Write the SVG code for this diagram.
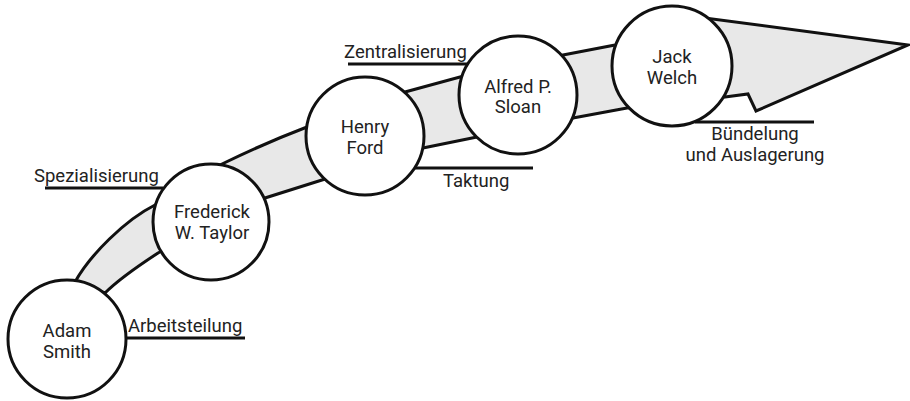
<svg xmlns="http://www.w3.org/2000/svg" width="910" height="401" viewBox="0 0 910 401">
<style>
.band{fill:#e8e8e8;stroke:#111;stroke-width:3;stroke-linejoin:miter}
.node circle{fill:#fff;stroke:#111;stroke-width:3}
text{font-family:Roboto,"Liberation Sans",sans-serif;font-size:18.5px;fill:#222}
.c{text-anchor:middle}
.ul{stroke:#111;stroke-width:3}
</style>
<rect width="910" height="401" fill="#fff"/>
<g id="connectors">
<path class="band" d="M75,282 C90,255 125,220 155,205 L222,164 Q265,143 307,127 L405,92 L460,77 L563,55 L615,45 L705,18 L908,45 L756,111 L748,94 L725,97 L627,108 L573,118 L477,137 L423,148 L322,180 L265,198 L158,253 C135,268 118,280 105,293 Z"/>
<line class="ul" x1="45" y1="188" x2="163" y2="188"/>
<line class="ul" x1="127" y1="338" x2="245" y2="338"/>
<line class="ul" x1="348" y1="64" x2="468" y2="64"/>
<line class="ul" x1="415" y1="168" x2="533" y2="168"/>
<line class="ul" x1="695" y1="122" x2="814" y2="122"/>
</g>
<g id="labels">
<text x="34" y="182">Spezialisierung</text>
<text x="128" y="332">Arbeitsteilung</text>
<text x="344" y="58">Zentralisierung</text>
<text x="443" y="187">Taktung</text>
<text class="c" x="755" y="140">Bündelung</text>
<text class="c" x="755" y="161">und Auslagerung</text>
</g>
<g id="smith" class="node">
<circle cx="67" cy="339" r="59"/>
<text class="c" x="67" y="337">Adam</text>
<text class="c" x="67" y="358">Smith</text>
</g>
<g id="taylor" class="node">
<circle cx="211" cy="222" r="58"/>
<text class="c" x="212" y="218">Frederick</text>
<text class="c" x="212" y="239">W. Taylor</text>
</g>
<g id="ford" class="node">
<circle cx="365" cy="136" r="59"/>
<text class="c" x="365" y="133">Henry</text>
<text class="c" x="365" y="154">Ford</text>
</g>
<g id="sloan" class="node">
<circle cx="518" cy="95" r="59"/>
<text class="c" x="518" y="93">Alfred P.</text>
<text class="c" x="518" y="113">Sloan</text>
</g>
<g id="welch" class="node">
<circle cx="672" cy="66" r="60"/>
<text class="c" x="672" y="63">Jack</text>
<text class="c" x="672" y="84">Welch</text>
</g>
</svg>
